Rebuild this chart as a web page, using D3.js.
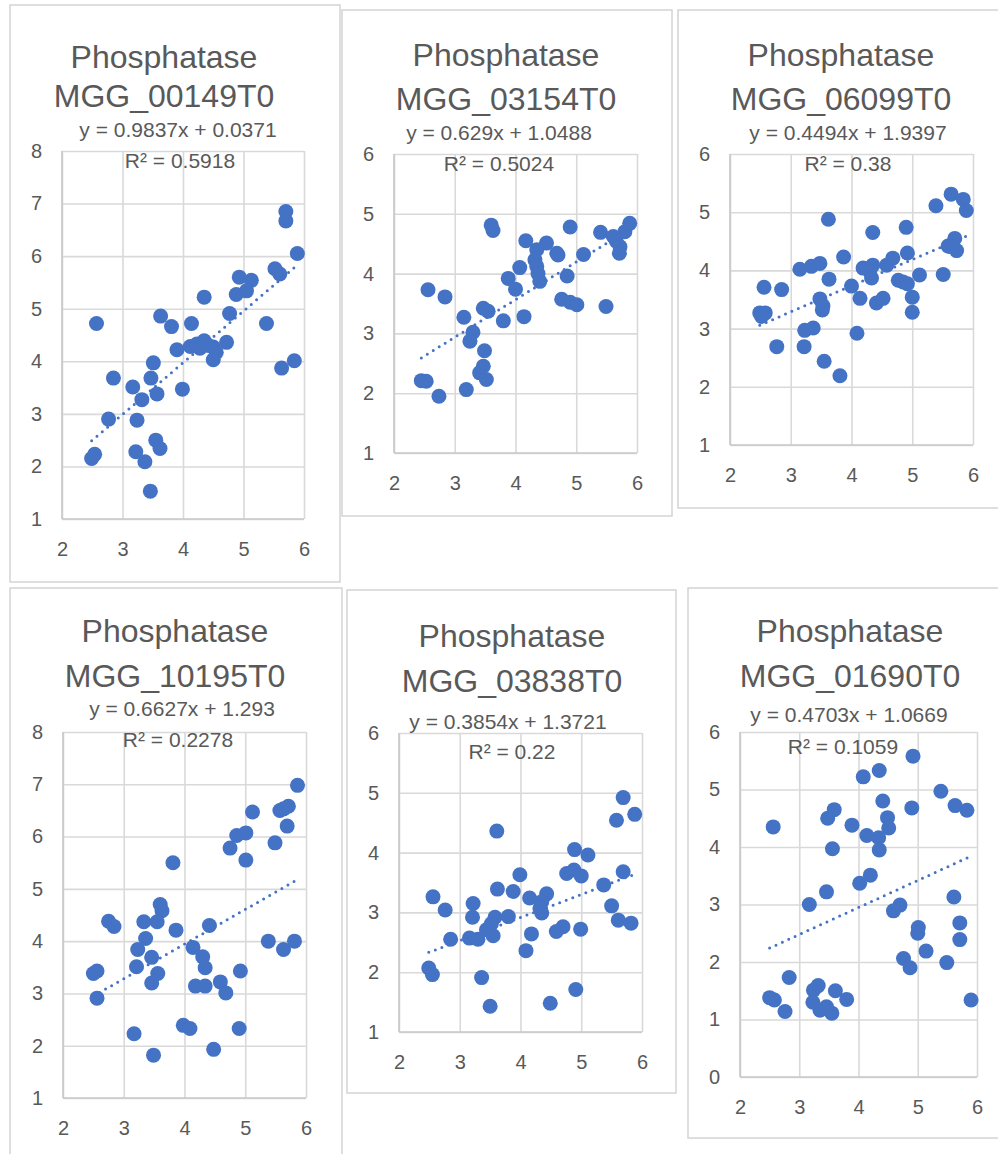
<!DOCTYPE html>
<html>
<head>
<meta charset="utf-8">
<script src="https://cdn.jsdelivr.net/npm/d3@7"></script>
<style>
  body { margin: 0; background: #fff; }
  text { font-family: 'Liberation Sans', Arial, sans-serif; fill: #595959; }
</style>
</head>
<body>
<svg id="chart" width="998" height="1154"></svg>
<script>
// gene ids, one per panel
const genes = ['MGG_00149T0', 'MGG_03154T0', 'MGG_06099T0', 'MGG_10195T0', 'MGG_03838T0', 'MGG_01690T0']
const slopes = [0.9837, 0.629, 0.4494, 0.6627, 0.3854, 0.4703]
const intercepts = [0.0371, 1.0488, 1.9397, 1.293, 1.3721, 1.0669]
const r2Labels = ['0.5918', '0.5024', '0.38', '0.2278', '0.22', '0.1059']

const xTicks = [2, 3, 4, 5, 6]
const yTicks8 = [1, 2, 3, 4, 5, 6, 7, 8]
const yTicks6 = [1, 2, 3, 4, 5, 6]
const yTicks06 = [0, 1, 2, 3, 4, 5, 6]

// panel 1 - MGG_00149T0
const x00149 = [5.70, 5.70, 5.89, 5.52, 5.60, 4.93, 5.13, 4.88, 5.05, 4.35, 4.77, 2.57, 3.63, 3.81, 4.14, 5.38, 3.90, 4.12, 4.23, 4.35, 4.50, 4.55, 4.72, 4.50, 3.51, 2.85, 3.47, 3.17, 3.99, 3.57, 3.32, 5.63, 5.84, 2.77, 3.24, 2.49, 2.54, 3.22, 3.37, 3.55, 3.62, 3.46, 4.42, 4.28]
const y00149 = [6.85, 6.67, 6.05, 5.76, 5.66, 5.60, 5.54, 5.27, 5.34, 5.22, 4.91, 4.72, 4.86, 4.66, 4.72, 4.72, 4.22, 4.28, 4.33, 4.39, 4.27, 4.17, 4.36, 4.03, 3.97, 3.68, 3.68, 3.51, 3.47, 3.38, 3.27, 3.87, 4.01, 2.90, 2.88, 2.15, 2.23, 2.28, 2.09, 2.50, 2.34, 1.53, 4.30, 4.25]

// panel 2 - MGG_03154T0
const x03154 = [3.60, 3.63, 2.56, 2.84, 4.17, 4.90, 5.40, 5.61, 5.66, 5.72, 5.71, 5.80, 5.88, 4.51, 4.35, 4.68, 4.70, 4.32, 4.35, 4.37, 4.40, 5.12, 4.07, 3.88, 4.00, 4.85, 4.76, 4.90, 5.01, 5.49, 3.47, 3.55, 3.15, 3.80, 4.14, 3.30, 3.25, 3.49, 3.41, 3.52, 3.47, 2.45, 2.53, 2.74, 3.19]
const y03154 = [4.81, 4.72, 3.73, 3.61, 4.55, 4.78, 4.69, 4.62, 4.54, 4.45, 4.34, 4.70, 4.84, 4.51, 4.40, 4.34, 4.31, 4.23, 4.12, 4.00, 3.87, 4.32, 4.10, 3.92, 3.74, 3.96, 3.57, 3.52, 3.48, 3.45, 3.42, 3.37, 3.27, 3.21, 3.28, 3.02, 2.87, 2.71, 2.34, 2.23, 2.45, 2.21, 2.20, 1.95, 2.06]

// panel 3 - MGG_06099T0
const x06099 = [5.64, 5.84, 5.89, 5.39, 3.62, 4.35, 4.90, 5.70, 5.59, 5.73, 5.62, 3.87, 4.92, 4.68, 4.58, 4.19, 4.35, 4.30, 4.33, 3.15, 3.34, 3.48, 3.63, 2.56, 2.85, 4.00, 5.12, 5.51, 4.77, 4.85, 4.92, 4.14, 4.41, 4.52, 5.00, 5.00, 3.48, 3.53, 3.52, 2.49, 2.58, 2.52, 3.23, 3.37, 4.09, 2.77, 3.22, 3.55, 3.81]
const y06099 = [5.31, 5.22, 5.03, 5.11, 4.88, 4.65, 4.74, 4.55, 4.42, 4.34, 4.41, 4.23, 4.30, 4.21, 4.09, 4.04, 4.09, 3.98, 3.87, 4.02, 4.07, 4.12, 3.85, 3.71, 3.67, 3.73, 3.92, 3.93, 3.83, 3.80, 3.77, 3.52, 3.44, 3.52, 3.54, 3.28, 3.51, 3.39, 3.32, 3.27, 3.27, 3.21, 2.97, 3.01, 2.92, 2.69, 2.69, 2.44, 2.19]

// panel 4 - MGG_10195T0
const x10195 = [5.86, 5.57, 5.71, 5.63, 5.12, 5.69, 4.86, 5.01, 4.75, 5.01, 5.49, 3.81, 3.60, 3.63, 3.55, 2.75, 2.84, 3.33, 4.41, 3.86, 3.36, 3.23, 4.14, 5.38, 5.63, 5.81, 3.46, 4.30, 4.34, 3.21, 2.50, 2.56, 3.56, 3.46, 4.92, 4.18, 4.34, 4.59, 4.68, 2.56, 3.98, 4.09, 3.17, 4.90, 3.49, 4.48]
const y10195 = [6.98, 6.50, 6.58, 6.53, 6.47, 6.20, 6.02, 6.07, 5.78, 5.55, 5.88, 5.50, 4.70, 4.58, 4.37, 4.38, 4.28, 4.37, 4.30, 4.21, 4.05, 3.84, 3.88, 4.00, 3.84, 4.00, 3.69, 3.70, 3.49, 3.51, 3.38, 3.43, 3.38, 3.20, 3.43, 3.14, 3.14, 3.22, 3.01, 2.91, 2.39, 2.33, 2.23, 2.33, 1.82, 1.93]

// panel 5 - MGG_03838T0
const x03838 = [5.69, 5.88, 5.58, 3.61, 4.89, 5.11, 5.69, 4.76, 4.88, 5.00, 3.99, 5.37, 3.62, 3.88, 4.43, 4.15, 2.56, 3.22, 3.21, 4.35, 4.32, 4.35, 2.76, 5.50, 3.80, 3.58, 3.52, 5.61, 5.82, 3.44, 3.55, 4.70, 4.59, 4.99, 4.18, 3.16, 3.30, 2.85, 4.09, 2.49, 2.55, 3.36, 3.50, 4.49, 4.91]
const y03838 = [4.92, 4.64, 4.54, 4.36, 4.05, 3.96, 3.68, 3.65, 3.71, 3.61, 3.63, 3.46, 3.39, 3.35, 3.31, 3.24, 3.26, 3.15, 2.92, 3.18, 3.07, 2.99, 3.04, 3.11, 2.93, 2.92, 2.81, 2.87, 2.82, 2.71, 2.61, 2.76, 2.68, 2.72, 2.64, 2.57, 2.55, 2.55, 2.36, 2.07, 1.96, 1.91, 1.43, 1.48, 1.71]

// panel 6 - MGG_01690T0
const x01690 = [4.92, 4.35, 4.08, 5.39, 4.41, 5.63, 5.83, 4.90, 3.59, 3.48, 2.56, 3.89, 4.49, 4.51, 4.14, 4.34, 4.35, 3.56, 4.20, 4.02, 3.46, 5.61, 3.17, 4.70, 4.59, 5.01, 5.00, 5.71, 5.71, 5.14, 5.49, 4.76, 4.87, 2.83, 2.50, 2.58, 2.76, 3.32, 3.24, 3.23, 3.35, 3.46, 3.55, 3.61, 3.80, 5.90]
const y01690 = [5.58, 5.33, 5.22, 4.97, 4.80, 4.72, 4.64, 4.68, 4.65, 4.50, 4.35, 4.38, 4.51, 4.33, 4.20, 4.16, 3.95, 3.97, 3.51, 3.37, 3.22, 3.13, 3.00, 2.99, 2.89, 2.60, 2.50, 2.68, 2.39, 2.19, 1.99, 2.06, 1.90, 1.73, 1.38, 1.34, 1.14, 1.59, 1.51, 1.30, 1.16, 1.22, 1.11, 1.50, 1.35, 1.34]

const xsAll = [x00149, x03154, x06099, x10195, x03838, x01690]
const ysAll = [y00149, y03154, y06099, y10195, y03838, y01690]
const yTicksAll = [yTicks8, yTicks6, yTicks6, yTicks8, yTicks6, yTicks06]

// layout for each panel: outer frame, plot rect, text anchors
const layout = [
    { box: [10, 5, 340, 582], plot: [62, 151, 304, 519], tx: 164, t1: 68, t2: 107, ex: 178, ey: 137, rx: 180, ry: 168 },
    { box: [342, 10, 672, 516], plot: [394, 154, 637, 453], tx: 506, t1: 66, t2: 110, ex: 499, ey: 140, rx: 499, ry: 171 },
    { box: [678, 10, 1006, 508], plot: [730, 154, 973, 445], tx: 841, t1: 66, t2: 110, ex: 848, ey: 140, rx: 848, ry: 171 },
    { box: [10, 588, 342, 1162], plot: [63, 732, 306, 1098], tx: 175, t1: 642, t2: 687, ex: 182, ey: 716, rx: 178, ry: 747 },
    { box: [347, 590, 676, 1093], plot: [399, 733, 642, 1032], tx: 512, t1: 647, t2: 692, ex: 508, ey: 729, rx: 512, ry: 759 },
    { box: [688, 588, 1012, 1138], plot: [740, 732, 977, 1077], tx: 850, t1: 642, t2: 687, ex: 849, ey: 722, rx: 843, ry: 754 }
]

const blue = '#4472c4', grid = '#d9d9d9'
const svg = d3.select('#chart')

layout.forEach((L, i) => drawPanel(L, i))

function drawPanel(L, i) {
    const g = svg.append('g')
    const [bx0, by0, bx1, by1] = L.box
    const [px0, py0, px1, py1] = L.plot
    const yTicks = yTicksAll[i]

    g.append('rect')
        .attr('x', bx0).attr('y', by0)
        .attr('width', bx1 - bx0).attr('height', by1 - by0)
        .attr('fill', '#fff')
        .attr('stroke', '#d4d4d4')
        .attr('stroke-width', 1.5)

    const x = d3.scaleLinear().domain([2, 6]).range([px0, px1])
    const y = d3.scaleLinear().domain(d3.extent(yTicks)).range([py1, py0])

    const xAxis = d3.axisBottom(x).tickValues(xTicks).tickFormat(d3.format('d'))
        .tickSize(-(py1 - py0)).tickPadding(23)
    const yAxis = d3.axisLeft(y).tickValues(yTicks).tickFormat(d3.format('d'))
        .tickSize(-(px1 - px0)).tickPadding(20)

    const gx = g.append('g').attr('transform', `translate(0,${py1})`).call(xAxis)
    const gy = g.append('g').attr('transform', `translate(${px0},0)`).call(yAxis)
    ;[gx, gy].forEach(a => {
        a.select('.domain').remove()
        a.selectAll('line').attr('stroke', grid).attr('stroke-width', 1.6)
        a.selectAll('text').style('font-size', '20px').attr('fill', '#595959')
    })
    // axis lines a bit darker
    g.append('line').attr('x1', px0).attr('x2', px0).attr('y1', py0).attr('y2', py1)
        .attr('stroke', '#c8c8c8').attr('stroke-width', 1.6)
    g.append('line').attr('x1', px0).attr('x2', px1).attr('y1', py1).attr('y2', py1)
        .attr('stroke', '#c8c8c8').attr('stroke-width', 1.6)

    const xs = xsAll[i], ys = ysAll[i]
    const pts = xs.map((v, k) => ({ x: v, y: ys[k] }))

    g.selectAll('circle.pt')
        .data(pts)
        .enter()
        .append('circle')
        .attr('class', 'pt')
        .attr('r', 7.5)
        .attr('cx', d => x(d.x))
        .attr('cy', d => y(d.y))
        .attr('fill', blue)

    // linear trendline over the x range of the data
    const ext = d3.extent(xs)
    const line = d3.line().x(d => x(d)).y(d => y(slopes[i] * d + intercepts[i]))
    g.append('path')
        .datum(ext)
        .attr('d', line)
        .attr('fill', 'none')
        .attr('stroke', blue)
        .attr('stroke-width', 3)
        .attr('stroke-linecap', 'round')
        .attr('stroke-dasharray', '0 7')

    g.append('text').attr('x', L.tx).attr('y', L.t1).attr('text-anchor', 'middle')
        .style('font-size', '32px').text('Phosphatase')
    g.append('text').attr('x', L.tx).attr('y', L.t2).attr('text-anchor', 'middle')
        .style('font-size', '32px').text(genes[i])
    g.append('text').attr('x', L.ex).attr('y', L.ey).attr('text-anchor', 'middle')
        .style('font-size', '21px').text(`y = ${slopes[i]}x + ${intercepts[i]}`)
    g.append('text').attr('x', L.rx).attr('y', L.ry).attr('text-anchor', 'middle')
        .style('font-size', '21px').text(`R² = ${r2Labels[i]}`)
}
</script>
</body>
</html>
